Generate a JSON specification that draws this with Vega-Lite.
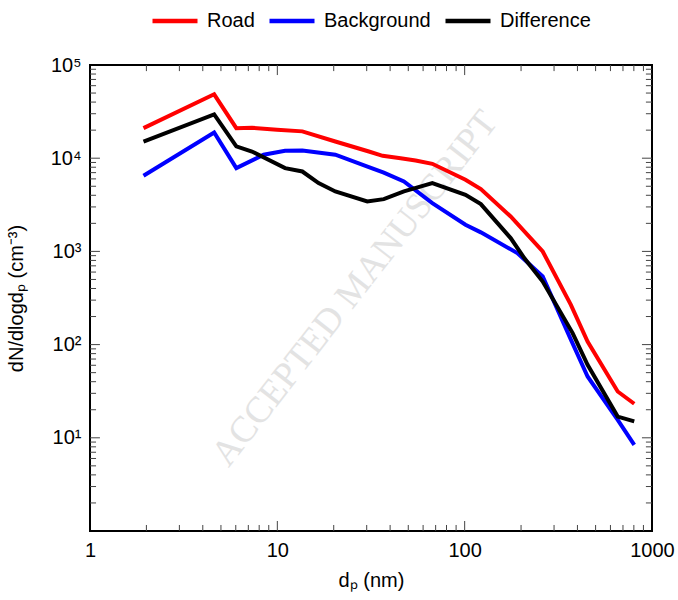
{
  "$schema": "https://vega.github.io/schema/vega-lite/v6.json",
  "width": 562,
  "height": 466,
  "autosize": {"type": "none"},
  "padding": {"left": 90, "top": 65, "right": 26, "bottom": 69},
  "datasets": {
    "xticks": [
      {"v": 2, "kind": "minor"}, {"v": 3, "kind": "minor"}, {"v": 4, "kind": "minor"}, {"v": 5, "kind": "minor"},
      {"v": 6, "kind": "minor"}, {"v": 7, "kind": "minor"}, {"v": 8, "kind": "minor"}, {"v": 9, "kind": "minor"},
      {"v": 10, "kind": "major"},
      {"v": 20, "kind": "minor"}, {"v": 30, "kind": "minor"}, {"v": 40, "kind": "minor"}, {"v": 50, "kind": "minor"},
      {"v": 60, "kind": "minor"}, {"v": 70, "kind": "minor"}, {"v": 80, "kind": "minor"}, {"v": 90, "kind": "minor"},
      {"v": 100, "kind": "major"},
      {"v": 200, "kind": "minor"}, {"v": 300, "kind": "minor"}, {"v": 400, "kind": "minor"}, {"v": 500, "kind": "minor"},
      {"v": 600, "kind": "minor"}, {"v": 700, "kind": "minor"}, {"v": 800, "kind": "minor"}, {"v": 900, "kind": "minor"}
    ],
    "yticks": [
      {"v": 2, "kind": "minor"}, {"v": 3, "kind": "minor"}, {"v": 4, "kind": "minor"}, {"v": 5, "kind": "minor"},
      {"v": 6, "kind": "minor"}, {"v": 7, "kind": "minor"}, {"v": 8, "kind": "minor"}, {"v": 9, "kind": "minor"},
      {"v": 10, "kind": "major"},
      {"v": 20, "kind": "minor"}, {"v": 30, "kind": "minor"}, {"v": 40, "kind": "minor"}, {"v": 50, "kind": "minor"},
      {"v": 60, "kind": "minor"}, {"v": 70, "kind": "minor"}, {"v": 80, "kind": "minor"}, {"v": 90, "kind": "minor"},
      {"v": 100, "kind": "major"},
      {"v": 200, "kind": "minor"}, {"v": 300, "kind": "minor"}, {"v": 400, "kind": "minor"}, {"v": 500, "kind": "minor"},
      {"v": 600, "kind": "minor"}, {"v": 700, "kind": "minor"}, {"v": 800, "kind": "minor"}, {"v": 900, "kind": "minor"},
      {"v": 1000, "kind": "major"},
      {"v": 2000, "kind": "minor"}, {"v": 3000, "kind": "minor"}, {"v": 4000, "kind": "minor"}, {"v": 5000, "kind": "minor"},
      {"v": 6000, "kind": "minor"}, {"v": 7000, "kind": "minor"}, {"v": 8000, "kind": "minor"}, {"v": 9000, "kind": "minor"},
      {"v": 10000, "kind": "major"},
      {"v": 20000, "kind": "minor"}, {"v": 30000, "kind": "minor"}, {"v": 40000, "kind": "minor"}, {"v": 50000, "kind": "minor"},
      {"v": 60000, "kind": "minor"}, {"v": 70000, "kind": "minor"}, {"v": 80000, "kind": "minor"}, {"v": 90000, "kind": "minor"}
    ],
    "psd": [
      {"series": "Road", "d": 1.93, "N": 21000},
      {"series": "Road", "d": 4.6, "N": 48500},
      {"series": "Road", "d": 6.04, "N": 21000},
      {"series": "Road", "d": 7.32, "N": 21200},
      {"series": "Road", "d": 9.96, "N": 20200},
      {"series": "Road", "d": 13.6, "N": 19400},
      {"series": "Road", "d": 20.4, "N": 15100},
      {"series": "Road", "d": 30.8, "N": 11800},
      {"series": "Road", "d": 36.5, "N": 10600},
      {"series": "Road", "d": 45.5, "N": 10000},
      {"series": "Road", "d": 54.7, "N": 9450},
      {"series": "Road", "d": 67.2, "N": 8710},
      {"series": "Road", "d": 101, "N": 5870},
      {"series": "Road", "d": 122, "N": 4660},
      {"series": "Road", "d": 176, "N": 2370},
      {"series": "Road", "d": 261, "N": 998},
      {"series": "Road", "d": 369, "N": 267},
      {"series": "Road", "d": 453, "N": 108},
      {"series": "Road", "d": 656, "N": 31.4},
      {"series": "Road", "d": 804, "N": 23.2},
      {"series": "Background", "d": 1.93, "N": 6470},
      {"series": "Background", "d": 4.6, "N": 18900},
      {"series": "Background", "d": 6.04, "N": 7830},
      {"series": "Background", "d": 8.45, "N": 10900},
      {"series": "Background", "d": 11.0, "N": 12000},
      {"series": "Background", "d": 13.6, "N": 12100},
      {"series": "Background", "d": 20.4, "N": 10900},
      {"series": "Background", "d": 30.8, "N": 8020},
      {"series": "Background", "d": 37.0, "N": 7000},
      {"series": "Background", "d": 47.4, "N": 5620},
      {"series": "Background", "d": 67.2, "N": 3300},
      {"series": "Background", "d": 101, "N": 1930},
      {"series": "Background", "d": 122, "N": 1600},
      {"series": "Background", "d": 191, "N": 959},
      {"series": "Background", "d": 261, "N": 538},
      {"series": "Background", "d": 369, "N": 113},
      {"series": "Background", "d": 453, "N": 45.5},
      {"series": "Background", "d": 656, "N": 15.6},
      {"series": "Background", "d": 804, "N": 8.4},
      {"series": "Difference", "d": 1.93, "N": 15100},
      {"series": "Difference", "d": 4.6, "N": 29500},
      {"series": "Difference", "d": 6.04, "N": 13400},
      {"series": "Difference", "d": 7.32, "N": 11800},
      {"series": "Difference", "d": 11.0, "N": 7830},
      {"series": "Difference", "d": 13.6, "N": 7200},
      {"series": "Difference", "d": 16.6, "N": 5410},
      {"series": "Difference", "d": 20.4, "N": 4400},
      {"series": "Difference", "d": 30.2, "N": 3430},
      {"series": "Difference", "d": 37.0, "N": 3640},
      {"series": "Difference", "d": 47.4, "N": 4400},
      {"series": "Difference", "d": 67.2, "N": 5410},
      {"series": "Difference", "d": 101, "N": 4050},
      {"series": "Difference", "d": 122, "N": 3220},
      {"series": "Difference", "d": 176, "N": 1390},
      {"series": "Difference", "d": 208, "N": 848},
      {"series": "Difference", "d": 261, "N": 475},
      {"series": "Difference", "d": 377, "N": 133},
      {"series": "Difference", "d": 453, "N": 60.7},
      {"series": "Difference", "d": 656, "N": 16.9},
      {"series": "Difference", "d": 804, "N": 15.0}
    ]
  },
  "layer": [
    {
      "data": {"values": [{"d": 26, "N": 400, "label": "ACCEPTED MANUSCRIPT"}]},
      "mark": {"type": "text", "font": "Liberation Serif", "fontSize": 37, "angle": 308, "color": "#e3e3e3", "align": "center", "baseline": "middle"},
      "encoding": {
        "x": {"field": "d", "type": "quantitative", "axis": null},
        "y": {"field": "N", "type": "quantitative", "axis": null},
        "text": {"field": "label"}
      }
    },
    {
      "data": {"name": "xticks"},
      "transform": [{"filter": "datum.kind == 'major'"}],
      "mark": {"type": "rule", "color": "#444444", "strokeWidth": 1},
      "encoding": {
        "x": {"field": "v", "type": "quantitative", "axis": null},
        "y": {"datum": 1, "type": "quantitative", "axis": null},
        "y2": {"datum": 1.28}
      }
    },
    {
      "data": {"name": "xticks"},
      "transform": [{"filter": "datum.kind == 'minor'"}],
      "mark": {"type": "rule", "color": "#444444", "strokeWidth": 1},
      "encoding": {
        "x": {"field": "v", "type": "quantitative", "axis": null},
        "y": {"datum": 1, "type": "quantitative", "axis": null},
        "y2": {"datum": 1.16}
      }
    },
    {
      "data": {"name": "xticks"},
      "transform": [{"filter": "datum.kind == 'major'"}],
      "mark": {"type": "rule", "color": "#444444", "strokeWidth": 1},
      "encoding": {
        "x": {"field": "v", "type": "quantitative", "axis": null},
        "y": {"datum": 100000, "type": "quantitative", "axis": null},
        "y2": {"datum": 78000}
      }
    },
    {
      "data": {"name": "xticks"},
      "transform": [{"filter": "datum.kind == 'minor'"}],
      "mark": {"type": "rule", "color": "#444444", "strokeWidth": 1},
      "encoding": {
        "x": {"field": "v", "type": "quantitative", "axis": null},
        "y": {"datum": 100000, "type": "quantitative", "axis": null},
        "y2": {"datum": 86000}
      }
    },
    {
      "data": {"name": "yticks"},
      "transform": [{"filter": "datum.kind == 'major'"}],
      "mark": {"type": "rule", "color": "#444444", "strokeWidth": 1},
      "encoding": {
        "y": {"field": "v", "type": "quantitative", "axis": null},
        "x": {"datum": 1, "type": "quantitative", "axis": null},
        "x2": {"datum": 1.13}
      }
    },
    {
      "data": {"name": "yticks"},
      "transform": [{"filter": "datum.kind == 'minor'"}],
      "mark": {"type": "rule", "color": "#444444", "strokeWidth": 1},
      "encoding": {
        "y": {"field": "v", "type": "quantitative", "axis": null},
        "x": {"datum": 1, "type": "quantitative", "axis": null},
        "x2": {"datum": 1.077}
      }
    },
    {
      "data": {"name": "yticks"},
      "transform": [{"filter": "datum.kind == 'major'"}],
      "mark": {"type": "rule", "color": "#444444", "strokeWidth": 1},
      "encoding": {
        "y": {"field": "v", "type": "quantitative", "axis": null},
        "x": {"datum": 1000, "type": "quantitative", "axis": null},
        "x2": {"datum": 884}
      }
    },
    {
      "data": {"name": "yticks"},
      "transform": [{"filter": "datum.kind == 'minor'"}],
      "mark": {"type": "rule", "color": "#444444", "strokeWidth": 1},
      "encoding": {
        "y": {"field": "v", "type": "quantitative", "axis": null},
        "x": {"datum": 1000, "type": "quantitative", "axis": null},
        "x2": {"datum": 928}
      }
    },
    {
      "data": {"name": "psd"},
      "mark": {"type": "line", "strokeWidth": 4, "strokeJoin": "miter"},
      "encoding": {
        "x": {
          "field": "d",
          "type": "quantitative",
          "scale": {"type": "log", "domain": [1, 1000], "nice": false},
          "axis": {
            "orient": "bottom",
            "title": "dₚ (nm)",
            "values": [1, 10, 100, 1000],
            "format": "d",
            "ticks": false,
            "labelPadding": 9,
            "titlePadding": 10
          }
        },
        "y": {
          "field": "N",
          "type": "quantitative",
          "scale": {"type": "log", "domain": [1, 100000], "nice": false},
          "axis": {
            "orient": "left",
            "title": "dN/dlogdₚ (cm⁻³)",
            "values": [10, 100, 1000, 10000, 100000],
            "labelExpr": "'10' + ['⁰','¹','²','³','⁴','⁵'][round(log(datum.value)/LN10)]",
            "ticks": false,
            "labelPadding": 9,
            "titlePadding": 24
          }
        },
        "color": {
          "field": "series",
          "type": "nominal",
          "scale": {"domain": ["Road", "Background", "Difference"], "range": ["#ff0000", "#0000ff", "#000000"]},
          "legend": {
            "orient": "none",
            "direction": "horizontal",
            "legendX": 60,
            "legendY": -69,
            "title": null,
            "symbolType": "stroke",
            "symbolSize": 2025,
            "symbolStrokeWidth": 4.5,
            "labelFontSize": 20,
            "columnPadding": 5,
            "labelOffset": 7
          }
        }
      }
    }
  ],
  "resolve": {"axis": {"x": "independent", "y": "independent"}},
  "config": {
    "font": "Liberation Sans",
    "view": {"stroke": "#000000", "strokeWidth": 2},
    "axis": {
      "grid": false,
      "domain": false,
      "labelFontSize": 20,
      "labelColor": "#000000",
      "labelFlush": false,
      "labelOverlap": false,
      "titleFontSize": 20,
      "titleFontWeight": "normal",
      "titleColor": "#000000"
    },
    "legend": {"labelColor": "#000000"}
  }
}
